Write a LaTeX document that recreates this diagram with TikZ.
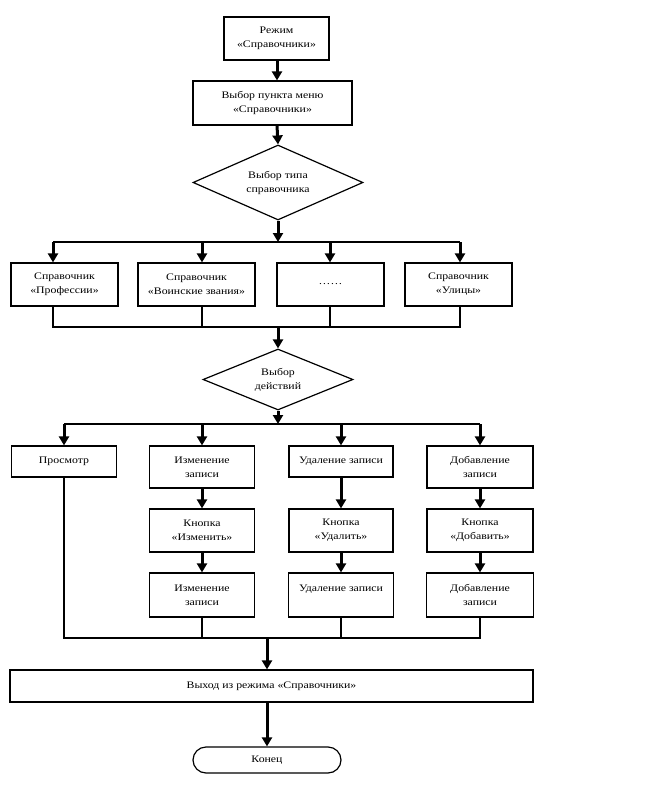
\documentclass[tikz,border=0pt]{standalone}
\usepackage{fontspec}
\setmainfont{Liberation Serif}[FakeStretch=1.18]
\usetikzlibrary{shapes.geometric,arrows.meta,calc}
\begin{document}
\begin{tikzpicture}[x=1pt,y=-1pt,
  every node/.style={font=\fontsize{10}{14}\selectfont, align=center, inner sep=0pt},
  box/.style={draw, line width=1.2pt, rectangle},
  dia/.style={draw, line width=1.2pt, diamond, aspect=2},
  term/.style={draw, line width=1.2pt, rounded corners=13pt},
  flow/.style={line width=3pt, -{Triangle[width=10pt,length=9pt]}},
  bus/.style={line width=1.2pt}]
\useasboundingbox (0,0) rectangle (646,794);

% top
\node[box, minimum width=105pt, minimum height=43pt] (start) at (276.5,38.5) {Режим\\«Справочники»};
\node[box, minimum width=159pt, minimum height=44pt] (menu) at (272.5,103) {Выбор пункта меню\\«Справочники»};
\node[dia, minimum width=170pt, minimum height=75pt] (d1) at (278,182.5) {Выбор типа\\справочника};

\coordinate (sp) at (277,0);
\draw[flow] (sp |- start.south) -- (sp |- menu.north);
\draw[flow] (sp |- menu.south) -- (d1.north);

% directory row
\node[box, minimum width=107pt, minimum height=43pt] (b1) at (64.5,284.5) {Справочник\\«Профессии»};
\node[box, minimum width=117pt, minimum height=43pt] (b2) at (196.5,284.5) {Справочник\\«Воинские звания»};
\node[box, minimum width=107pt, minimum height=43pt] (b3) at (330.5,284.5) {……};
\node[box, minimum width=107pt, minimum height=43pt] (b4) at (458.5,284.5) {Справочник\\«Улицы»};

\coordinate (t1) at (53,242);
\coordinate (t2) at (202,242);
\coordinate (t3) at (330,242);
\coordinate (t4) at (460,242);
\coordinate (u1) at (53,327);
\coordinate (u4) at (460,327);

\draw[bus] (t1) -- (t4);
\draw[flow] (d1.south) -- (d1.south |- t1);
\foreach \i in {1,2,3,4} {\draw[flow] (t\i) -- (t\i |- b\i.north);}
\draw[bus] (t1 |- b1.south) -- (u1) -- (u4) -- (t4 |- b4.south);
\draw[bus] (t2 |- b2.south) -- (t2 |- u1);
\draw[bus] (t3 |- b3.south) -- (t3 |- u1);

\node[dia, minimum width=150pt, minimum height=61pt] (d2) at (278,379.5) {Выбор\\действий};
\draw[flow] (d2.north |- u1) -- (d2.north);

% action rows
\coordinate (v1) at (64,424);
\coordinate (v2) at (202,424);
\coordinate (v3) at (341,424);
\coordinate (v4) at (480,424);
\draw[bus] (v1) -- (v4);
\draw[flow] (d2.south) -- (d2.south |- v1);

\node[box, minimum width=105pt, minimum height=31pt] (view) at (64,461.5) {Просмотр};
\node[box, minimum width=105pt, minimum height=42pt] (edA) at (202,467) {Изменение\\записи};
\node[box, minimum width=104pt, minimum height=31pt] (deA) at (341,461.5) {Удаление записи};
\node[box, minimum width=106pt, minimum height=42pt] (adA) at (480,467) {Добавление\\записи};

\draw[flow] (v1) -- (view.north);
\draw[flow] (v2) -- (edA.north);
\draw[flow] (v3) -- (deA.north);
\draw[flow] (v4) -- (adA.north);

\node[box, minimum width=105pt, minimum height=43pt] (edB) at (202,530.5) {Кнопка\\«Изменить»};
\node[box, minimum width=104pt, minimum height=43pt] (deB) at (341,530.5) {Кнопка\\«Удалить»};
\node[box, minimum width=106pt, minimum height=43pt] (adB) at (480,530.5) {Кнопка\\«Добавить»};

\node[box, minimum width=105pt, minimum height=44pt] (edC) at (202,595) {Изменение\\записи};
\node[box, minimum width=105pt, minimum height=44pt] (deC) at (341,595) {Удаление записи\\\mbox{}};
\node[box, minimum width=107pt, minimum height=44pt] (adC) at (480,595) {Добавление\\записи};

\draw[flow] (edA.south) -- (edB.north);
\draw[flow] (edB.south) -- (edC.north);
\draw[flow] (deA.south) -- (deB.north);
\draw[flow] (deB.south) -- (deC.north);
\draw[flow] (adA.south) -- (adB.north);
\draw[flow] (adB.south) -- (adC.north);

\coordinate (w1) at (64,638);
\coordinate (w4) at (480,638);
\coordinate (w0) at (267,638);
\draw[bus] (view.south) -- (w1) -- (w4) -- (adC.south);
\draw[bus] (edC.south) -- (edC.south |- w1);
\draw[bus] (deC.south) -- (deC.south |- w1);

\node[box, minimum width=523pt, minimum height=32pt] (exit) at (271.5,686) {Выход из режима «Справочники»};
\node[term, minimum width=148pt, minimum height=26pt] (term) at (267,760) {Конец};

\draw[flow] (w0) -- (w0 |- exit.north);
\draw[flow] (term.north |- exit.south) -- (term.north);
\end{tikzpicture}
\end{document}
